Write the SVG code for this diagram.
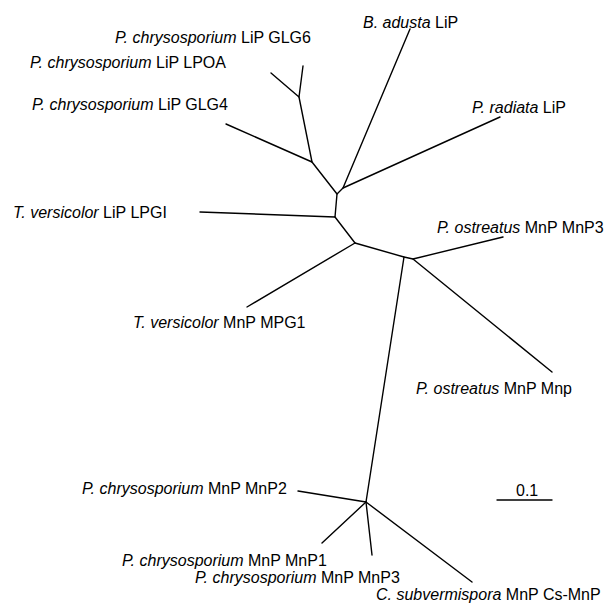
<svg xmlns="http://www.w3.org/2000/svg" width="613" height="604" viewBox="0 0 613 604">
<style>
text{font-family:"Liberation Sans",Arial,sans-serif;font-size:16px;fill:#000}
.i{font-style:italic}
.e{fill:none;stroke:#000;stroke-width:1.4;stroke-linecap:round;stroke-linejoin:round}
</style>
<rect width="613" height="604" fill="#fff"/>
<g id="connectors" class="e">
<path d="M303,66 L299,97 L271,73"/>
<path d="M299,97 L312,162 L226,124"/>
<path d="M312,162 L337,194 L335,217 L200,212"/>
<path d="M337,194 L343,188 L410,29"/>
<path d="M343,188 L500,117"/>
<path d="M335,217 L355,243 L247,307"/>
<path d="M355,243 L404,257 L413,259 L503,237"/>
<path d="M413,259 L552,372"/>
<path d="M404,257 L366,502 L298,491"/>
<path d="M366,502 L322,543"/>
<path d="M366,502 L372,555"/>
<path d="M366,502 L472,582"/>
<path d="M497,500 L552,500"/>
</g>
<g id="n-badusta"><text x="363" y="28"><tspan class="i">B. adusta</tspan> LiP</text></g>
<g id="n-glg6"><text x="115" y="43"><tspan class="i">P. chrysosporium</tspan> LiP GLG6</text></g>
<g id="n-lpoa"><text x="30" y="68"><tspan class="i">P. chrysosporium</tspan> LiP LPOA</text></g>
<g id="n-glg4"><text x="32" y="110"><tspan class="i">P. chrysosporium</tspan> LiP GLG4</text></g>
<g id="n-radiata"><text x="472" y="113"><tspan class="i">P. radiata</tspan> LiP</text></g>
<g id="n-lpgi"><text x="13" y="218"><tspan class="i">T. versicolor</tspan> LiP LPGI</text></g>
<g id="n-ostmnp3"><text x="437" y="233"><tspan class="i">P. ostreatus</tspan> MnP MnP3</text></g>
<g id="n-mpg1"><text x="133" y="328"><tspan class="i">T. versicolor</tspan> MnP MPG1</text></g>
<g id="n-ostmnp"><text x="416" y="394"><tspan class="i">P. ostreatus</tspan> MnP Mnp</text></g>
<g id="n-mnp2"><text x="82" y="494"><tspan class="i">P. chrysosporium</tspan> MnP MnP2</text></g>
<g id="scale"><text x="516" y="496">0.1</text></g>
<g id="n-mnp1"><text x="122" y="566"><tspan class="i">P. chrysosporium</tspan> MnP MnP1</text></g>
<g id="n-mnp3"><text x="195" y="583"><tspan class="i">P. chrysosporium</tspan> MnP MnP3</text></g>
<g id="n-cs"><text x="376" y="600"><tspan class="i">C. subvermispora</tspan> MnP Cs-MnP</text></g>
</svg>
